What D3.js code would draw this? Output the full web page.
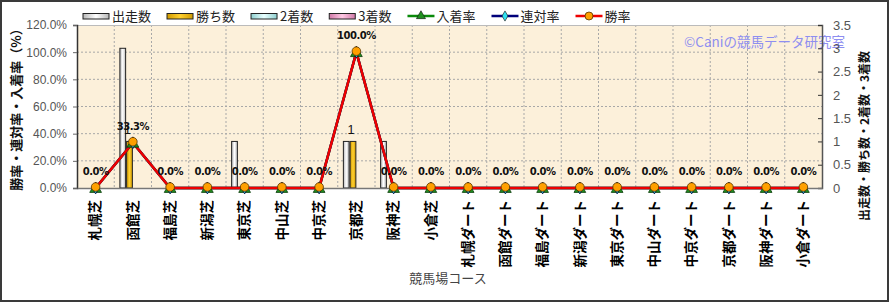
<!DOCTYPE html>
<html>
<head>
<meta charset="utf-8">
<script src="https://cdn.jsdelivr.net/npm/d3@7"></script>
<style>
  body { margin: 0; background: #fff; }
  text { font-family: "Noto Sans CJK JP", "DejaVu Sans", sans-serif; }
</style>
</head>
<body>
<div id="chart"></div>
<script>
/* 競馬場コース別 成績チャート */

const courses = ["札幌芝", "函館芝", "福島芝", "新潟芝", "東京芝", "中山芝", "中京芝", "京都芝", "阪神芝", "小倉芝",
                 "札幌ダート", "函館ダート", "福島ダート", "新潟ダート", "東京ダート", "中山ダート", "中京ダート", "京都ダート", "阪神ダート", "小倉ダート"];
const starts  = [0, 3, 0, 0, 1, 0, 0, 1, 1, 0, 0, 0, 0, 0, 0, 0, 0, 0, 0, 0];
const wins    = [0, 1, 0, 0, 0, 0, 0, 1, 0, 0, 0, 0, 0, 0, 0, 0, 0, 0, 0, 0];
const seconds = [0, 0, 0, 0, 0, 0, 0, 0, 0, 0, 0, 0, 0, 0, 0, 0, 0, 0, 0, 0];
const thirds  = [0, 0, 0, 0, 0, 0, 0, 0, 0, 0, 0, 0, 0, 0, 0, 0, 0, 0, 0, 0];
const placeRate  = [0, 33.3, 0, 0, 0, 0, 0, 100, 0, 0, 0, 0, 0, 0, 0, 0, 0, 0, 0, 0];
const rentaiRate = [0, 33.3, 0, 0, 0, 0, 0, 100, 0, 0, 0, 0, 0, 0, 0, 0, 0, 0, 0, 0];
const winRate    = [0, 33.3, 0, 0, 0, 0, 0, 100, 0, 0, 0, 0, 0, 0, 0, 0, 0, 0, 0, 0];
const leftTicks  = [0, 20, 40, 60, 80, 100, 120];
const rightTicks = [0, 0.5, 1, 1.5, 2, 2.5, 3, 3.5];

const width = 890,
      height = 302,
      margin = ({ top: 25, right: 68, bottom: 114, left: 77 });

const svg = d3.select("#chart")
    .append("svg")
    .attr("width", width)
    .attr("height", height);

const defs = svg.append("defs");
function barGradient(id, edge, mid) {
    const g = defs.append("linearGradient").attr("id", id).attr("x1", 0).attr("x2", 1);
    g.append("stop").attr("offset", "0%").attr("stop-color", edge);
    g.append("stop").attr("offset", "50%").attr("stop-color", mid);
    g.append("stop").attr("offset", "100%").attr("stop-color", edge);
}
barGradient("gStart", "#b8b8b8", "#ffffff");
barGradient("gWin", "#d09a00", "#ffd030");
barGradient("gSecond", "#8fcfcf", "#e8ffff");
barGradient("gThird", "#d07aa8", "#ffc8e4");

// outer frame
svg.append("rect")
    .attr("x", 1).attr("y", 1)
    .attr("width", width - 3).attr("height", height - 2)
    .attr("fill", "none")
    .attr("stroke", "#3a3a3a")
    .attr("stroke-width", 2);

const x = d3.scaleBand()
    .domain(courses)
    .range([margin.left, width - margin.right]);

const xSub = d3.scaleBand()
    .domain(["starts", "wins", "seconds", "thirds"])
    .range([0, 27]);

const yL = d3.scaleLinear()
    .domain([0, 120])
    .range([height - margin.bottom, margin.top]);

const yR = d3.scaleLinear()
    .domain([0, 3.5])
    .range([height - margin.bottom, margin.top]);

// plot background
svg.append("rect")
    .attr("x", margin.left).attr("y", margin.top)
    .attr("width", width - margin.left - margin.right)
    .attr("height", height - margin.top - margin.bottom)
    .attr("fill", "#fcf0da");

// grid
svg.append("g")
    .selectAll("line")
    .data(leftTicks.slice(1, -1))
    .join("line")
    .attr("x1", margin.left).attr("x2", width - margin.right)
    .attr("y1", d => yL(d)).attr("y2", d => yL(d))
    .attr("stroke", "#a8a8a8")
    .attr("stroke-dasharray", "2,2");

svg.append("g")
    .selectAll("line")
    .data(courses.slice(1))
    .join("line")
    .attr("x1", d => x(d)).attr("x2", d => x(d))
    .attr("y1", margin.top).attr("y2", height - margin.bottom)
    .attr("stroke", "#a8a8a8")
    .attr("stroke-dasharray", "2,2");

// top border of plot
svg.append("line")
    .attr("x1", margin.left).attr("x2", width - margin.right)
    .attr("y1", margin.top + 0.5).attr("y2", margin.top + 0.5)
    .attr("stroke", "#bbb");

// watermark
svg.append("text")
    .attr("x", 845).attr("y", 47)
    .attr("text-anchor", "end")
    .style("font-size", "13.5px")
    .style("fill", "#8e8ef0")
    .text("©Caniの競馬データ研究室");

// bars
const barSeries = [
    { key: "starts", values: starts, fill: "url(#gStart)" },
    { key: "wins", values: wins, fill: "url(#gWin)" },
    { key: "seconds", values: seconds, fill: "url(#gSecond)" },
    { key: "thirds", values: thirds, fill: "url(#gThird)" }
];

const groupOffset = (x.bandwidth() - xSub.range()[1]) / 2;

barSeries.forEach(s => {
    const items = courses.map((c, i) => ({ c, v: s.values[i] })).filter(d => d.v > 0);
    svg.append("g")
        .selectAll("rect")
        .data(items)
        .join("rect")
        .attr("x", d => x(d.c) + groupOffset + xSub(s.key) + 0.5)
        .attr("width", xSub.bandwidth() - 1)
        .attr("y", d => yR(d.v))
        .attr("height", d => yR(0) - yR(d.v))
        .attr("fill", s.fill)
        .attr("stroke", "#222")
        .attr("stroke-width", 1);
});

// labels for 勝ち数
svg.append("g")
    .selectAll("text")
    .data(courses.map((c, i) => ({ c, v: wins[i] })).filter(d => d.v > 0))
    .join("text")
    .attr("x", d => x(d.c) + groupOffset + xSub("wins") + xSub.bandwidth() / 2 - 2)
    .attr("y", d => yR(d.v) - 7)
    .attr("text-anchor", "middle")
    .style("font-size", "12.5px")
    .style("fill", "#111")
    .style("font-family", "'Liberation Sans', Arial, sans-serif")
    .text(d => d.v);

// axes
const axisColor = "#666";

const leftAxis = svg.append("g")
    .attr("transform", `translate(${margin.left},0)`)
    .call(d3.axisLeft(yL).tickValues(leftTicks).tickSize(4).tickFormat(d => d.toFixed(1) + "%"));
leftAxis.select(".domain").attr("stroke", "#333").attr("stroke-width", 1.5);
leftAxis.selectAll(".tick line").attr("stroke", axisColor);
leftAxis.selectAll(".tick text")
    .attr("x", -10)
    .style("font-size", "12px")
    .style("fill", "#555")
    .style("font-family", "'Liberation Sans', Arial, sans-serif");

const rightAxis = svg.append("g")
    .attr("transform", `translate(${width - margin.right},0)`)
    .call(d3.axisRight(yR).tickValues(rightTicks).tickSize(-4).tickFormat(d => d));
rightAxis.select(".domain").attr("stroke", "#555").attr("stroke-width", 1.5);
rightAxis.selectAll(".tick line").attr("stroke", "#333");
rightAxis.selectAll(".tick text")
    .attr("x", 11)
    .style("font-size", "13px")
    .style("fill", "#555")
    .style("font-family", "'Liberation Sans', Arial, sans-serif");

const bottomAxis = svg.append("g")
    .attr("transform", `translate(0,${height - margin.bottom})`)
    .call(d3.axisBottom(x).tickSize(0));
bottomAxis.select(".domain").attr("stroke", "#777").attr("stroke-width", 1.5);
bottomAxis.selectAll(".tick text")
    .attr("transform", "rotate(-90)")
    .attr("text-anchor", "end")
    .attr("x", -12)
    .attr("y", 0)
    .attr("dy", "0.35em")
    .style("font-size", "13.5px")
    .style("font-weight", "bold")
    .style("fill", "#000");

// rate lines
const line = d3.line()
    .x((d, i) => x(courses[i]) + x.bandwidth() / 2)
    .y(d => yL(d));

const cx = i => x(courses[i]) + x.bandwidth() / 2;

svg.append("path").datum(placeRate)
    .attr("d", line).attr("fill", "none")
    .attr("stroke", "#0a8a0a").attr("stroke-width", 2.5);
svg.append("path").datum(rentaiRate)
    .attr("d", line).attr("fill", "none")
    .attr("stroke", "#00007a").attr("stroke-width", 2.5);
svg.append("path").datum(winRate)
    .attr("d", line).attr("fill", "none")
    .attr("stroke", "#ee0000").attr("stroke-width", 2.5);

// markers
const tri = d3.symbol().type(d3.symbolTriangle).size(60);
const dia = d3.symbol().type(d3.symbolDiamond).size(40);

svg.append("g")
    .selectAll("path")
    .data(placeRate)
    .join("path")
    .attr("d", tri)
    .attr("transform", (d, i) => `translate(${cx(i)},${yL(d) + 1})`)
    .attr("fill", "#1f8f1f")
    .attr("stroke", "#0a3a0a")
    .attr("stroke-width", 0.8);

svg.append("g")
    .selectAll("path")
    .data(rentaiRate)
    .join("path")
    .attr("d", dia)
    .attr("transform", (d, i) => `translate(${cx(i)},${yL(d)})`)
    .attr("fill", "#30e0f0")
    .attr("stroke", "#003")
    .attr("stroke-width", 0.8);

svg.append("g")
    .selectAll("circle")
    .data(winRate)
    .join("circle")
    .attr("cx", (d, i) => cx(i))
    .attr("cy", d => yL(d) - 1)
    .attr("r", 4.3)
    .attr("fill", "#ffa000")
    .attr("stroke", "#553300")
    .attr("stroke-width", 0.8);

// rate labels
svg.append("g")
    .selectAll("text")
    .data(winRate)
    .join("text")
    .attr("x", (d, i) => cx(i))
    .attr("y", d => yL(d) - 13)
    .attr("text-anchor", "middle")
    .style("font-size", "10px")
    .style("font-weight", "bold")
    .style("fill", "#111")
    .style("font-family", "'DejaVu Sans', sans-serif")
    .style("letter-spacing", "-0.5px")
    .text(d => d.toFixed(1) + "%");

// axis titles
svg.append("text")
    .attr("transform", `translate(16,${(margin.top + height - margin.bottom) / 2}) rotate(-90)`)
    .attr("text-anchor", "middle")
    .attr("dy", "0.35em")
    .style("font-size", "13px")
    .style("font-weight", "bold")
    .style("fill", "#111")
    .text("勝率・連対率・入着率（%）");

svg.append("text")
    .attr("transform", `translate(865,136) rotate(-90)`)
    .attr("text-anchor", "middle")
    .attr("dy", "0.35em")
    .style("font-size", "12px")
    .style("font-weight", "bold")
    .style("fill", "#111")
    .text("出走数・勝ち数・2着数・3着数");

svg.append("text")
    .attr("x", 448).attr("y", 283)
    .attr("text-anchor", "middle")
    .style("font-size", "13px")
    .style("fill", "#444")
    .text("競馬場コース");

// legend
const legendItems = [
    { label: "出走数", kind: "bar", fill: "url(#gStart)" },
    { label: "勝ち数", kind: "bar", fill: "url(#gWin)" },
    { label: "2着数", kind: "bar", fill: "url(#gSecond)" },
    { label: "3着数", kind: "bar", fill: "url(#gThird)" },
    { label: "入着率", kind: "line", stroke: "#0a8a0a", marker: "tri", mfill: "#1f8f1f" },
    { label: "連対率", kind: "line", stroke: "#00007a", marker: "dia", mfill: "#30e0f0" },
    { label: "勝率", kind: "line", stroke: "#ee0000", marker: "circle", mfill: "#ffa000" }
];

const legend = svg.append("g");
let lx = 83;
legendItems.forEach(item => {
    const g = legend.append("g").attr("transform", `translate(${lx},0)`);
    if (item.kind === "bar") {
        g.append("rect")
            .attr("x", 0).attr("y", 13.5)
            .attr("width", 26).attr("height", 5.5)
            .attr("fill", item.fill)
            .attr("stroke", "#222");
    } else {
        g.append("line")
            .attr("x1", 0).attr("x2", 27)
            .attr("y1", 16).attr("y2", 16)
            .attr("stroke", item.stroke).attr("stroke-width", 2.5);
        if (item.marker === "circle") {
            g.append("circle").attr("cx", 13.5).attr("cy", 16).attr("r", 4)
                .attr("fill", item.mfill).attr("stroke", "#553300").attr("stroke-width", 0.8);
        } else {
            g.append("path")
                .attr("d", item.marker === "tri" ? d3.symbol().type(d3.symbolTriangle).size(36)() : d3.symbol().type(d3.symbolDiamond).size(30)())
                .attr("transform", "translate(13.5,16)")
                .attr("fill", item.mfill).attr("stroke", "#111").attr("stroke-width", 0.6);
        }
    }
    const t = g.append("text")
        .attr("x", 29).attr("y", 21)
        .style("font-size", "13px")
        .style("fill", "#222")
        .text(item.label);
    lx += 29 + t.node().getComputedTextLength() + 16;
});
</script>
</body>
</html>
